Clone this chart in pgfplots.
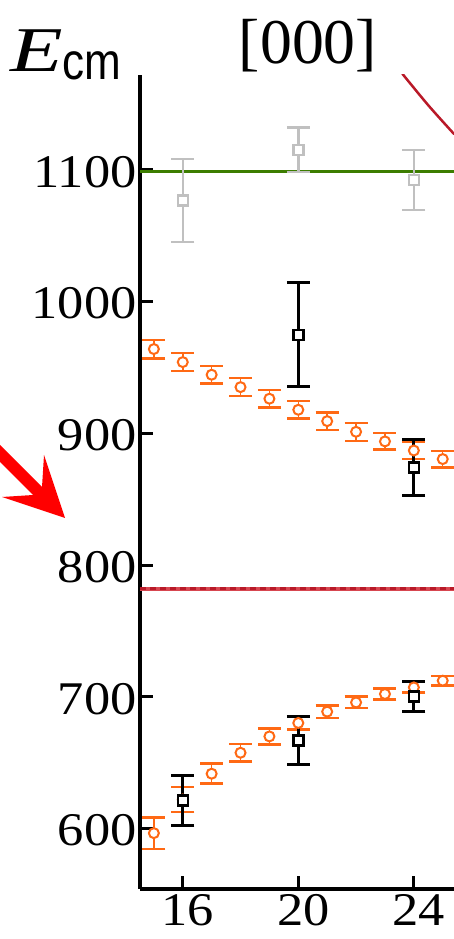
\documentclass[border=0pt]{standalone}
\usepackage{fontspec}
\setmainfont{Liberation Serif}
\setsansfont{Liberation Sans}
\newfontfamily\tickfont{Liberation Serif}[FakeStretch=1.12]
\usepackage{graphicx}
\usepackage{pgfplots}
\pgfplotsset{compat=1.18}
\definecolor{orng}{RGB}{255,105,20}
\definecolor{grn}{RGB}{60,125,0}
\definecolor{rdl}{RGB}{215,70,80}
\definecolor{rdd}{RGB}{185,25,40}
\definecolor{gry}{RGB}{192,192,192}
\definecolor{arr}{RGB}{255,0,0}
\begin{document}
\begin{tikzpicture}
\path[use as bounding box] (0,0) rectangle (454bp,939bp);
\clip (0,0) rectangle (454bp,939bp);
\begin{axis}[
  at={(140bp,50bp)}, anchor=south west,
  scale only axis, width=314bp, height=814bp,
  xmin=14.52, xmax=25.39, ymin=554.2, ymax=1172,
  axis lines=left, axis line style={-, line width=3.5bp, black},
  xtick={16,20,24}, ytick={600,700,...,1100},
  tick align=inside, major tick length=13bp,
  tick style={line width=3bp, black},
  minor tick num=0,
  scaled ticks=false,
  /pgf/number format/1000 sep={},
  /pgf/number format/assume math mode=true,
  ticklabel style={font=\tickfont\fontsize{47}{47}\selectfont},
  yticklabel style={xshift=0bp, yshift=-2bp},
  xticklabel style={yshift=-2bp, xshift=5bp},
]
% horizontal lines
\addplot[grn, line width=3bp] coordinates {(14.52,1099) (25.39,1099)};
\addplot[rdl, line width=3.5bp] coordinates {(14.52,782) (25.39,782)};
\addplot[rdd, line width=3bp, dash pattern=on 6bp off 4bp] coordinates {(14.52,782) (25.39,782)};
% red curve top right
\addplot[rdd, line width=2.5bp, smooth] coordinates {(23.6,1173) (24.5,1149) (25.4,1127)};
% orange upper
\addplot[only marks, mark=*, mark size=5bp, mark options={draw=orng, fill=white, line width=2bp},
  error bars/.cd, y dir=both, y explicit, error mark=|,
  error mark options={orng, line width=2.5bp, mark size=11.5bp},
  error bar style={orng, line width=1.5bp}]
  table[x=x, y=y, y error=e] {
x y e
15 964.0 7.0
16 954.1 6.8
17 944.5 6.5
18 935.1 6.8
19 926.3 6.7
20 917.9 6.8
21 909.3 6.7
22 901.2 6.8
23 893.9 6.2
24 887.0 6.3
25 880.5 6.3
};
% orange lower
\addplot[only marks, mark=*, mark size=5bp, mark options={draw=orng, fill=white, line width=2bp},
  error bars/.cd, y dir=both, y explicit, error mark=|,
  error mark options={orng, line width=2.5bp, mark size=11.5bp},
  error bar style={orng, line width=1.5bp}]
  table[x=x, y=y, y error=e] {
x y e
15 596.6 12.0
16 622.1 9.5
17 641.7 7.6
18 657.6 6.6
19 670.0 6.0
20 680.2 5.0
21 688.8 4.8
22 695.8 4.4
23 702.2 4.0
24 707.2 4.0
25 712.3 3.5
};
% gray squares
\addplot[only marks, mark=square*, mark size=5bp, mark options={draw=gry, fill=white, line width=2.5bp},
  error bars/.cd, y dir=both, y explicit, error mark=|,
  error mark options={gry, line width=2.5bp, mark size=11.5bp},
  error bar style={gry, line width=2.5bp}]
  table[x=x, y=y, y error=e] {
x y e
16 1076.7 31.5
20 1115.2 17.0
24 1092.2 22.7
};
% black squares
\addplot[only marks, mark=square*, mark size=5bp, mark options={draw=black, fill=white, line width=2.5bp},
  error bars/.cd, y dir=both, y explicit, error mark=|,
  error mark options={black, line width=3bp, mark size=11.5bp},
  error bar style={black, line width=3bp}]
  table[x=x, y=y, y error=e] {
x y e
16 621.2 19.0
20 666.8 18.3
24 700.4 11.4
20 974.8 39.6
24 874.1 21.4
};
\end{axis}
\node[anchor=base, inner sep=0, font=\fontsize{64}{64}\selectfont] at (308bp,875bp) {[000]};
\node[anchor=base west, inner sep=0] at (10bp,867bp)
  {\fontsize{64}{64}\selectfont\itshape\scalebox{1.35}[1]{E}\raisebox{-8bp}{\sffamily\upshape\fontsize{52}{52}\selectfont\scalebox{0.85}[1]{cm}}};
\fill[arr] (65bp,421bp) -- (44bp,484bp) -- (42bp,452bp) -- (-10bp,504bp) -- (-10bp,487bp) -- (33bp,444bp) -- (2bp,442bp) -- cycle;
\end{tikzpicture}
\end{document}
